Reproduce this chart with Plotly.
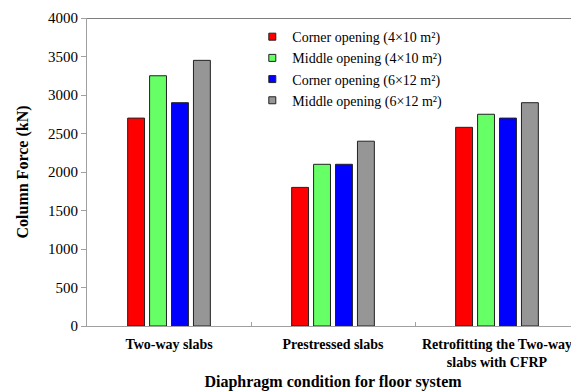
import plotly.graph_objects as go

categories = ["Two-way slabs", "Prestressed slabs", "Retrofitting the Two-way<br>slabs with CFRP"]
series_names = ["Corner opening (4×10 m²)", "Middle opening (4×10 m²)",
                "Corner opening (6×12 m²)", "Middle opening (6×12 m²)"]
corner_4x10 = [2700, 1800, 2580]
middle_4x10 = [3250, 2100, 2750]
corner_6x12 = [2900, 2100, 2700]
middle_6x12 = [3450, 2400, 2900]
y_ticks = [0, 500, 1000, 1500, 2000, 2500, 3000, 3500, 4000]

colors = ["#FF0000", "#66FF66", "#0000FF", "#969696"]
values = [corner_4x10, middle_4x10, corner_6x12, middle_6x12]

fig = go.Figure()
for name, vals, col in zip(series_names, values, colors):
    fig.add_trace(go.Bar(x=categories, y=vals, name=name, showlegend=False,
                         marker=dict(color=col, line=dict(color="#222222", width=1))))
# legend entries with small square swatches
for name, col in zip(series_names, colors):
    fig.add_trace(go.Scatter(x=[None], y=[None], mode="markers", name=name,
                             marker=dict(symbol="square", size=7, color=col,
                                         line=dict(color="#222222", width=1))))

serif = "Liberation Serif"
# page body has an 8px margin, so the figure is sized to fit inside it
fig.update_layout(
    width=571, height=384,
    margin=dict(l=79, r=0, t=10, b=66, autoexpand=False),
    plot_bgcolor="white", paper_bgcolor="white",
    barmode="group", bargap=0.465, bargroupgap=0.23,
    font=dict(family=serif, color="black", size=13),
    showlegend=True,
    legend=dict(x=0.336, y=0.99, xanchor="left", yanchor="top",
                font=dict(family=serif, size=14), bgcolor="rgba(0,0,0,0)",
                tracegroupgap=0, itemwidth=30),
    xaxis=dict(showline=True, linecolor="#A0A0A0", linewidth=1, automargin=False,
               tickson="boundaries", ticks="inside", ticklen=4, tickcolor="#A0A0A0",
               ticklabelstandoff=5,
               tickfont=dict(family=serif, size=14, color="black", weight="bold"),
               title=dict(text="<b>Diaphragm condition for floor system</b>",
                          font=dict(family=serif, size=16), standoff=6),
               showgrid=False),
    yaxis=dict(range=[0, 4000], tickvals=y_ticks, showline=True, linecolor="#A0A0A0",
               linewidth=1, ticks="outside", ticklen=5, tickcolor="#A0A0A0", automargin=False,
               tickfont=dict(family=serif, size=15, color="black"),
               title=dict(text="<b>Column Force (kN)</b>", font=dict(family=serif, size=16), standoff=15),
               showgrid=False, zeroline=False),
)
fig.add_shape(type="line", xref="paper", yref="y", x0=0, x1=1, y0=4000, y1=4000,
              line=dict(color="#555555", width=1.5))
fig.write_html("out.html")
